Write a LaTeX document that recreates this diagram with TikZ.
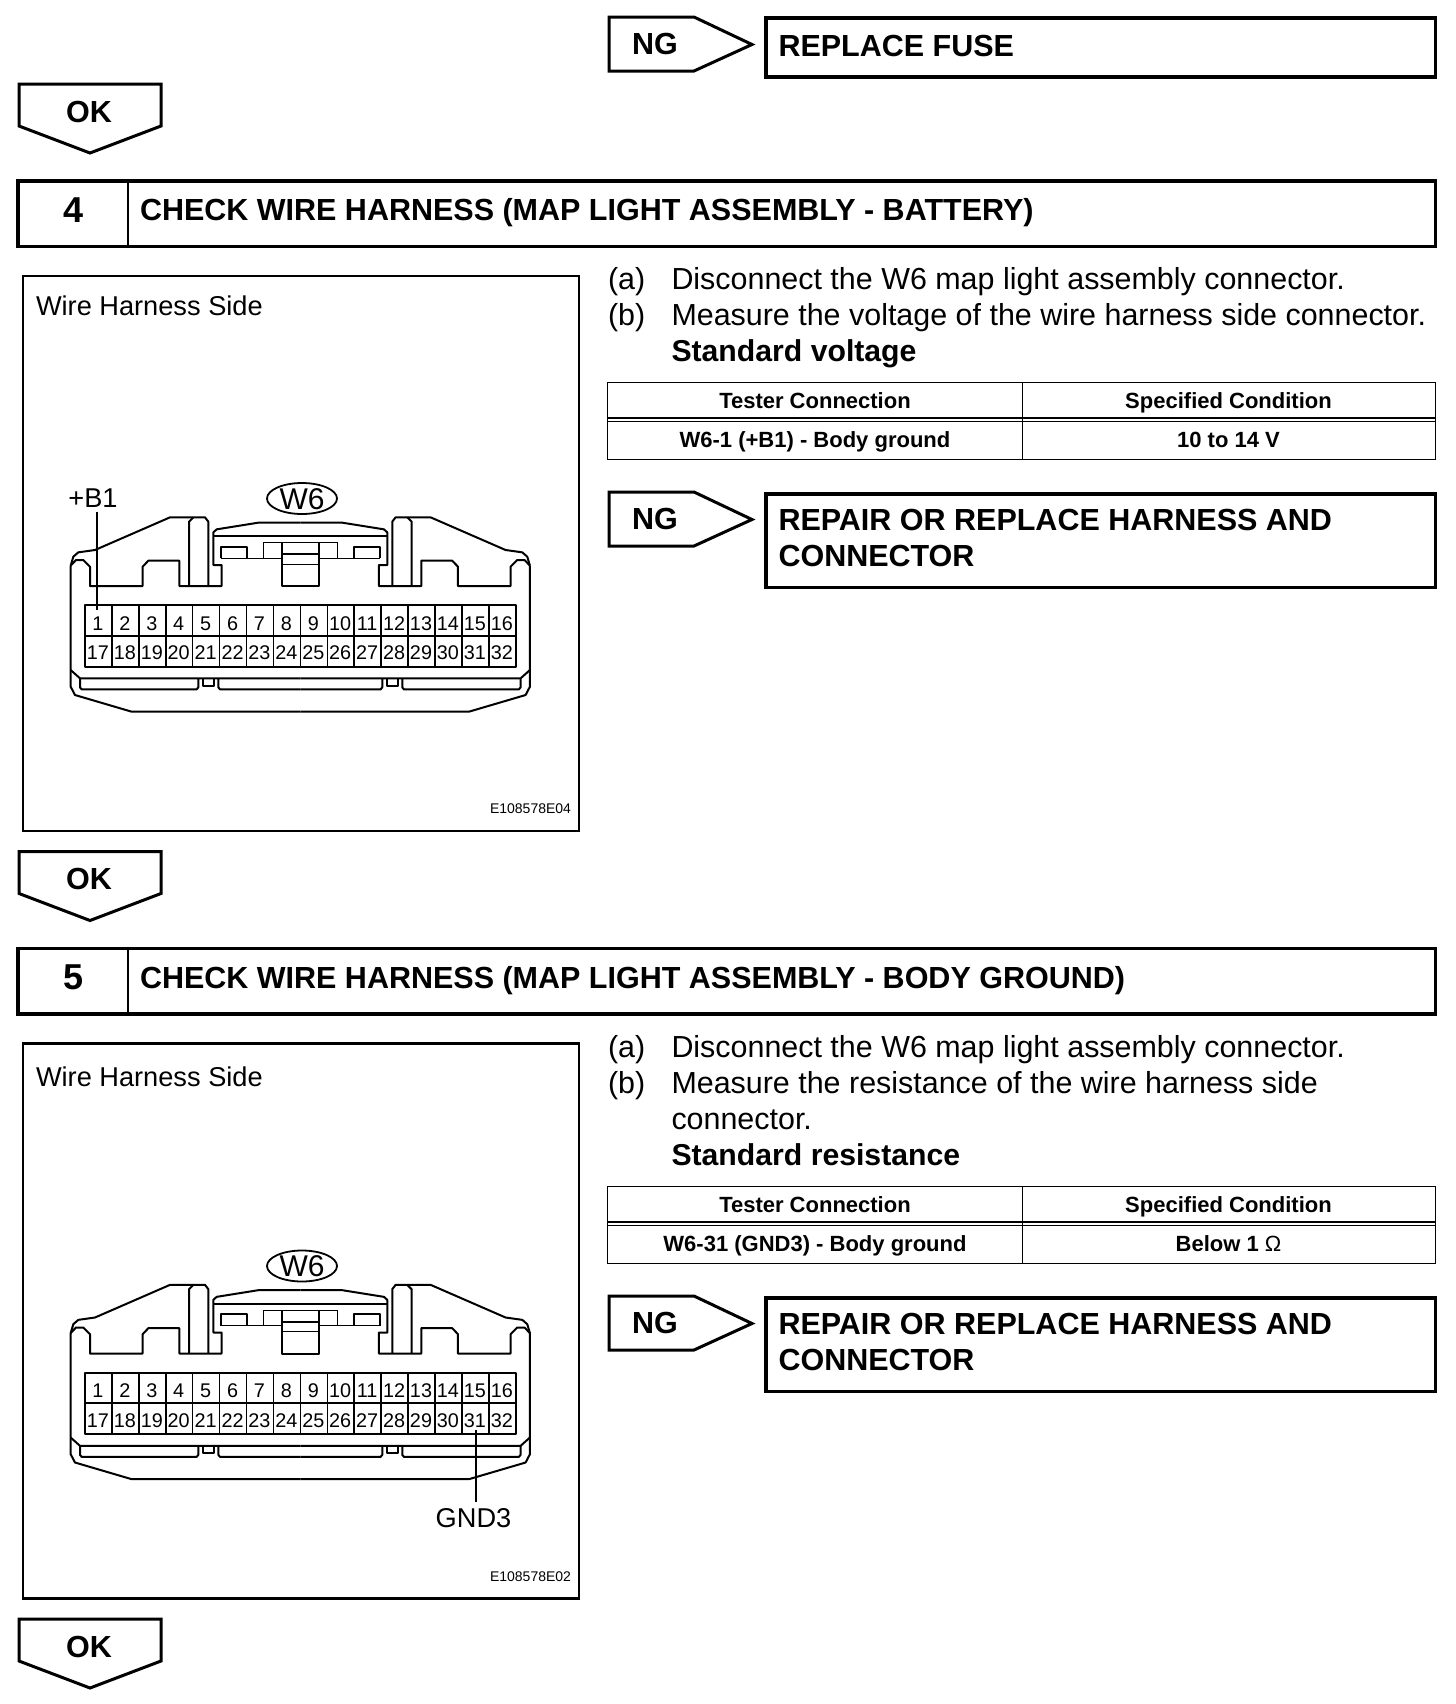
\documentclass[tikz,border=0pt]{standalone}
\usepackage{fontspec}
\usetikzlibrary{shapes.geometric}
\setmainfont{Liberation Sans}
\tikzset{
  thickframe/.style={draw=black,line width=1.75pt,line join=miter},
  tagline/.style={draw=black,line width=1.5pt,line join=miter},
  figframe/.style={draw=black,line width=1.2pt},
  tabline/.style={draw=black,line width=0.75pt},
  conn/.style={draw=black,line width=1pt,line join=round},
  connthin/.style={draw=black,line width=0.6pt},
  lbl/.style={inner sep=0pt,outer sep=0pt,anchor=base west,text=black},
  clbl/.style={inner sep=0pt,outer sep=0pt,anchor=base,text=black},
  bigb/.style={font=\bfseries\fontsize{15.25}{18}\selectfont},
  body/.style={font=\fontsize{15.22}{18}\selectfont},
  bodyb/.style={font=\bfseries\fontsize{15.1}{18}\selectfont},
  tabb/.style={font=\bfseries\fontsize{11}{13}\selectfont},
  pin/.style={font=\fontsize{9.9}{11}\selectfont},
  fig/.style={font=\fontsize{13.6}{15}\selectfont},
  code/.style={font=\fontsize{7}{8}\selectfont},
}
% OK tag, offset y
\newcommand{\oktag}[2]{
  \begin{scope}[shift={(0,#2)}]
    \draw[tagline] (19,84) -- (161,84) -- (161,126) -- (90,153) -- (19,126) -- cycle;
    \node[clbl,bigb] (#1) at (89,122) {OK};
  \end{scope}}
% NG tag + result box
\newcommand{\ngtag}[2]{
  \begin{scope}[shift={(0,#2)}]
    \draw[tagline] (609,17) -- (694,17) -- (752,44.5) -- (694,71) -- (609,71) -- cycle;
    \node[clbl,bigb] (#1) at (655,54) {NG};
  \end{scope}}
% step header
\newcommand{\stephead}[4]{
  \begin{scope}[shift={(0,#2)}]
    \draw[thickframe] (18,181) rectangle (1435.5,246.5);
    \draw[draw=black,line width=1.4pt] (128,181) -- (128,246.5);
    \node[clbl,font=\bfseries\fontsize{18}{20}\selectfont] (#1n) at (74,222) {#3};
    \node[lbl,bigb] (#1t) at (140,220.5) {#4};
  \end{scope}}
% half of the connector, in 3x coordinates
\newcommand{\halfconn}{
  \draw[conn] (751,158) -- (625,158) -- (500,178) -- (490,187) -- (490,285) -- (515,285) -- (515,348) -- (388,348) -- (388,272) -- (295,272) -- (278,290) -- (278,348) -- (120,348) -- (120,290) -- (100,270) -- (78,270) -- (62,287);
  \draw[conn] (62,287) -- (62,650) -- (75,675) -- (245,725) -- (751,725);
  \draw[conn] (62,287) -- (70,260) -- (85,247) -- (135,240) -- (360,142) -- (465,142) -- (475,155) -- (475,348);
  \draw[conn] (417,348) -- (417,155) -- (430,142);
  \draw[conn] (490,198) -- (751,198);
  \draw[conn] (512,265) -- (512,230) -- (590,230) -- (590,265);
  \draw[connthin] (512,265) -- (640,265) -- (640,218) -- (751,218);
  \draw[connthin] (640,265) -- (695,265);
  \draw[conn] (751,348) -- (695,348) -- (695,218);
  \draw[connthin] (695,283) -- (751,283);
  \draw[conn] (695,253) -- (751,253);
  \draw[conn] (62,600) -- (90,625) -- (751,625);
  \draw[conn] (90,625) -- (90,652) -- (95,658) -- (440,658) -- (445,652) -- (445,625);
  \draw[conn] (458,625) -- (458,647) -- (492,647) -- (492,625);
  \draw[conn] (505,625) -- (505,652) -- (510,658) -- (751,658);
}
\newcommand{\harness}[2]{
  \begin{scope}[shift={(0,#2)}]
    \begin{scope}[shift={(50,470)},x=0.16667pt,y=-0.16667pt]
      \halfconn
    \end{scope}
    \begin{scope}[shift={(550.6,470)},x=-0.16667pt,y=-0.16667pt]
      \halfconn
    \end{scope}
    \node[draw=black,line width=0.9pt,ellipse,minimum width=35pt,minimum height=15.5pt,inner sep=0pt] (#1oval) at (302,498.5) {};
    \node[clbl,font=\fontsize{15}{17}\selectfont] (#1w) at (302,509) {W6};
    \draw[conn] (85,605) rectangle (515.7,666.7);
    \draw[conn] (85,635.7) -- (516.7,635.7);
    \foreach \i in {1,...,15} \draw[connthin,line width=0.75pt] ({85+\i*26.92},605) -- ({85+\i*26.92},666.7);
    \foreach \i in {1,...,16} {
      \node[clbl,pin] (#1p\i) at ({84.5+(\i-0.5)*26.92},630) {\i};
      \pgfmathtruncatemacro{\j}{\i+16}
      \node[clbl,pin] (#1p\j) at ({84.5+(\i-0.5)*26.92},659.5) {\j};
    }
  \end{scope}}
% tester table
\newcommand{\testtable}[4]{
  \begin{scope}[shift={(0,#2)}]
    \draw[tabline] (607.5,382.5) rectangle (1435.5,459.5);
    \draw[tabline] (607.5,418) -- (1435.5,418);
    \draw[tabline] (607.5,421.5) -- (1435.5,421.5);
    \draw[tabline] (1022.5,382.5) -- (1022.5,459.5);
    \node[clbl,tabb] (#1a) at (815,408) {Tester Connection};
    \node[clbl,tabb] (#1b) at (1228.5,408) {Specified Condition};
    \node[clbl,tabb] (#1c) at (815,447.5) {#3};
    \node[clbl,tabb] (#1d) at (1228.5,447.5) {#4};
  \end{scope}}
\newcommand{\repairbox}[2]{
  \begin{scope}[shift={(0,#2)}]
    \draw[thickframe] (766,494) rectangle (1435.5,587.5);
    \node[lbl,bigb] (#1a) at (778.5,530.5) {REPAIR OR REPLACE HARNESS AND};
    \node[lbl,bigb] (#1b) at (778.5,566.5) {CONNECTOR};
  \end{scope}}
\begin{document}
\begin{tikzpicture}[x=0.5pt,y=-0.5pt]
\useasboundingbox (0,0) rectangle (1456,1704);
\fill[white] (0,0) rectangle (1456,1704);

% top
\ngtag{ngA}{0}
\draw[thickframe] (766,18) rectangle (1435.5,77);
\node[lbl,bigb] (fuse) at (778.5,56) {REPLACE FUSE};
\oktag{okA}{0}

% step 4
\stephead{hA}{0}{4}{CHECK WIRE HARNESS (MAP LIGHT ASSEMBLY - BATTERY)}
\draw[figframe] (23,276) rectangle (579,831);
\node[lbl,fig] (sideA) at (36,315) {Wire Harness Side};
\harness{cA}{0}
\node[clbl,fig] (b1) at (93,507.5) {+B1};
\draw[conn] (96.7,511.5) -- (96.7,610);
\node[lbl,code,anchor=base east] (codeA) at (571,813) {E108578E04};
\node[lbl,body] (a1) at (608,289.5) {(a)};
\node[lbl,body] (a2) at (671.5,289.5) {Disconnect the W6 map light assembly connector.};
\node[lbl,body] (b1l) at (608,325.5) {(b)};
\node[lbl,body] (b2) at (671.5,325.5) {Measure the voltage of the wire harness side connector.};
\node[lbl,bodyb] (sv) at (671.5,361.5) {Standard voltage};
\testtable{tA}{0}{W6-1 (+B1) - Body ground}{10 to 14 V}
\ngtag{ngB}{475}
\repairbox{rA}{0}
\oktag{okB}{767.5}

% step 5
\stephead{hB}{767.5}{5}{CHECK WIRE HARNESS (MAP LIGHT ASSEMBLY - BODY GROUND)}
\draw[figframe] (23,1043.5) rectangle (579,1598.5);
\node[lbl,fig] (sideB) at (36,1086) {Wire Harness Side};
\harness{cB}{767.5}
\draw[conn] (476,1430) -- (476,1502);
\node[clbl,fig] (gnd) at (473.5,1527) {GND3};
\node[lbl,code,anchor=base east] (codeB) at (571,1581) {E108578E02};
\node[lbl,body] (c1) at (608,1057.5) {(a)};
\node[lbl,body] (c2) at (671.5,1057.5) {Disconnect the W6 map light assembly connector.};
\node[lbl,body] (d1) at (608,1093.5) {(b)};
\node[lbl,body] (d2) at (671.5,1093.5) {Measure the resistance of the wire harness side};
\node[lbl,body] (d3) at (671.5,1129.5) {connector.};
\node[lbl,bodyb] (sr) at (671.5,1165) {Standard resistance};
\testtable{tB}{804}{W6-31 (GND3) - Body ground}{Below 1 {\fontseries{m}\selectfont Ω}}
\ngtag{ngC}{1279}
\repairbox{rB}{804}
\oktag{okC}{1535}
\end{tikzpicture}
\end{document}
